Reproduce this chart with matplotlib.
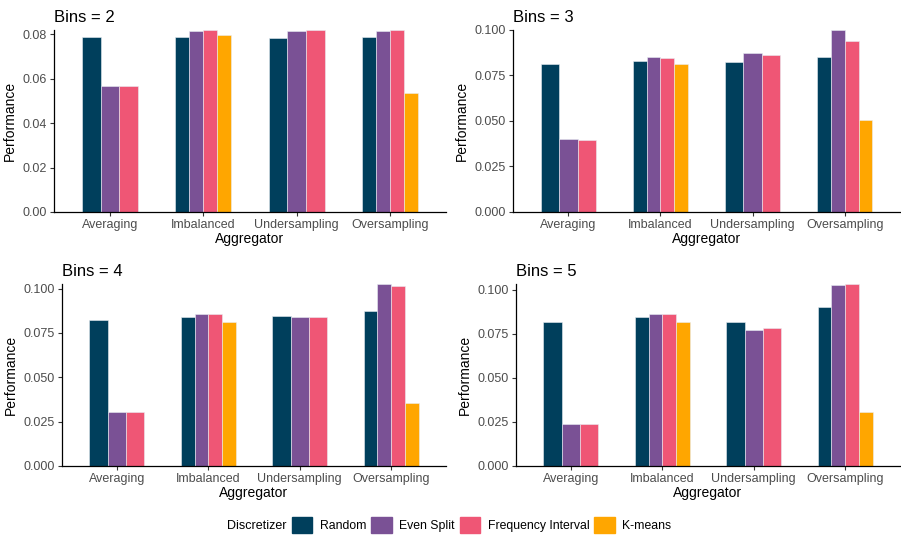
import matplotlib.pyplot as plt
import numpy as np

plt.rcParams['font.family'] = ['Liberation Sans', 'DejaVu Sans']

aggregators = ['Averaging', 'Imbalanced', 'Undersampling', 'Oversampling']
discretizers = ['Random', 'Even Split', 'Frequency Interval', 'K-means']
colors = ['#003f5c', '#7a5195', '#ef5675', '#ffa600']

# per bins: rows = aggregator, cols = discretizer (None = missing)
bins2 = [[0.0788, 0.0566, 0.0567, None],
         [0.0788, 0.0814, 0.0820, 0.0798],
         [0.0785, 0.0814, 0.0820, None],
         [0.0788, 0.0814, 0.0820, 0.0536]]
bins3 = [[0.0811, 0.0399, 0.0397, None],
         [0.0828, 0.0850, 0.0848, 0.0815],
         [0.0824, 0.0874, 0.0861, None],
         [0.0850, 0.1000, 0.0940, 0.0504]]
bins4 = [[0.0821, 0.0305, 0.0305, None],
         [0.0840, 0.0859, 0.0859, 0.0810],
         [0.0846, 0.0840, 0.0842, None],
         [0.0874, 0.1026, 0.1017, 0.0357]]
bins5 = [[0.0819, 0.0238, 0.0238, None],
         [0.0845, 0.0864, 0.0864, 0.0817],
         [0.0815, 0.0773, 0.0783, None],
         [0.0904, 0.1028, 0.1032, 0.0308]]

panels = [(2, bins2), (3, bins3), (4, bins4), (5, bins5)]

W, H = 901, 538
# left, right, top, bottom in pixels
boxes = [(54, 446, 30, 212), (513, 900, 30, 212),
         (62, 446, 284, 466), (516, 900, 284, 466)]

fig = plt.figure(figsize=(W / 100, H / 100), dpi=100)

for (nb, data), (l, r, t, b) in zip(panels, boxes):
    ax = fig.add_axes([l / W, 1 - b / H, (r - l) / W, (b - t) / H])
    ymax = 0
    for i, row in enumerate(data):
        present = [j for j, v in enumerate(row) if v is not None]
        w = 0.6 / len(present)
        for k, j in enumerate(present):
            x = i + 1 - 0.3 + w * (k + 0.5)
            ax.bar(x, row[j], width=w, color=colors[j],
                   edgecolor='#e8eef3', linewidth=0.4)
            ymax = max(ymax, row[j])
    ax.set_xlim(0.4, 4.6)
    ax.set_ylim(0, ymax)
    ax.set_xticks(range(1, 5))
    ax.set_xticklabels(aggregators)
    if nb == 2:
        yt = np.arange(0, 0.081, 0.02)
        ax.set_yticks(yt)
        ax.set_yticklabels([f'{v:.2f}' for v in yt])
    else:
        yt = np.arange(0, 0.101, 0.025)
        ax.set_yticks(yt)
        ax.set_yticklabels([f'{v:.3f}' for v in yt])
    for s in ['top', 'right']:
        ax.spines[s].set_visible(False)
    for s in ['left', 'bottom']:
        ax.spines[s].set_linewidth(0.9)
        ax.spines[s].set_color('black')
    ax.tick_params(axis='both', labelsize=9, colors='#333333',
                   labelcolor='#4d4d4d', length=3, width=0.8, pad=2)
    ax.set_xlabel('Aggregator', fontsize=10, labelpad=1)
    ax.set_ylabel('Performance', fontsize=10, labelpad=4)
    ax.set_title(f'Bins = {nb}', fontsize=12, loc='left', x=0.0, pad=6)

handles = [plt.Rectangle((0, 0), 1, 1, color=c) for c in colors]
fig.text(227 / W, 1 - 526 / H, 'Discretizer', fontsize=9, va='center', ha='left')
fig.legend(handles, discretizers, loc='center left',
           bbox_to_anchor=(286 / W, 1 - 525 / H), ncol=4, frameon=False,
           fontsize=8.8, handlelength=1.64, handleheight=1.64,
           handletextpad=0.65, columnspacing=0.4, borderpad=0)

fig.savefig('out.png', dpi=100)
